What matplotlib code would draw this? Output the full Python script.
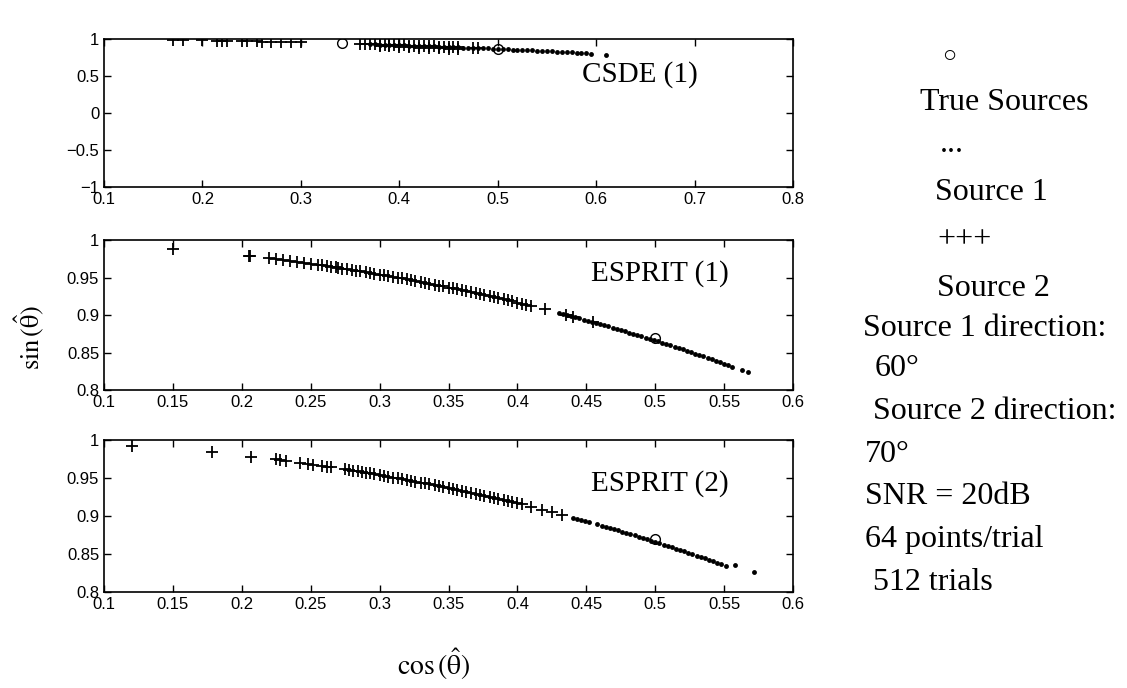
import matplotlib
matplotlib.use("Agg")
import matplotlib.pyplot as plt
from matplotlib.ticker import FuncFormatter

plt.rcParams['mathtext.fontset'] = 'stix'

# ---- CSDE (1) ----
csde_s2_cos = [0.17, 0.18, 0.20, 0.215, 0.22, 0.225, 0.24, 0.245, 0.255, 0.26, 0.27, 0.28,
               0.29, 0.30, 0.36, 0.365, 0.37, 0.375, 0.38, 0.385, 0.39, 0.395, 0.40, 0.405,
               0.41, 0.415, 0.42, 0.425, 0.43, 0.435, 0.44, 0.445, 0.45, 0.455, 0.46, 0.475, 0.48,
               0.38, 0.39, 0.40, 0.41, 0.42, 0.43, 0.44, 0.45, 0.46]
csde_s2_sin = [0.985, 0.984, 0.980, 0.977, 0.976, 0.974, 0.971, 0.970, 0.967, 0.966, 0.963, 0.960,
               0.957, 0.954, 0.933, 0.931, 0.929, 0.927, 0.925, 0.923, 0.921, 0.919, 0.917, 0.914,
               0.912, 0.910, 0.908, 0.905, 0.903, 0.900, 0.898, 0.896, 0.893, 0.891, 0.888, 0.880, 0.877,
               0.905, 0.900, 0.895, 0.890, 0.885, 0.880, 0.875, 0.870, 0.865]
csde_s1_cos = [0.37, 0.375, 0.38, 0.385, 0.39, 0.395, 0.40, 0.405, 0.41, 0.415, 0.42, 0.425,
               0.43, 0.435, 0.44, 0.445, 0.45, 0.455, 0.46, 0.465, 0.47, 0.475, 0.48, 0.485,
               0.49, 0.495, 0.50, 0.505, 0.51, 0.515, 0.52, 0.525, 0.53, 0.535, 0.54, 0.545,
               0.55, 0.555, 0.56, 0.565, 0.57, 0.575, 0.58, 0.585, 0.59, 0.595, 0.61]
csde_s1_sin = [0.929, 0.927, 0.925, 0.923, 0.921, 0.919, 0.917, 0.914, 0.912, 0.910, 0.908, 0.905,
               0.903, 0.900, 0.898, 0.896, 0.893, 0.891, 0.888, 0.885, 0.883, 0.880, 0.877, 0.875,
               0.872, 0.869, 0.866, 0.863, 0.860, 0.857, 0.854, 0.851, 0.848, 0.845, 0.842, 0.838,
               0.835, 0.832, 0.828, 0.825, 0.822, 0.818, 0.815, 0.811, 0.807, 0.804, 0.790]
csde_true_cos = [0.342, 0.5]
csde_true_sin = [0.940, 0.866]

# ---- ESPRIT (1) ----
esp1_s2_cos = [0.15, 0.205, 0.206, 0.22, 0.225, 0.23, 0.235, 0.24, 0.245, 0.25, 0.255, 0.258,
               0.262, 0.265, 0.268, 0.27, 0.273, 0.276, 0.28, 0.283, 0.286, 0.29, 0.293, 0.296,
               0.30, 0.303, 0.306, 0.31, 0.313, 0.316, 0.32, 0.323, 0.326, 0.33, 0.333, 0.336,
               0.34, 0.343, 0.346, 0.35, 0.353, 0.356, 0.36, 0.363, 0.366, 0.37, 0.373, 0.376,
               0.38, 0.383, 0.386, 0.39, 0.393, 0.396, 0.40, 0.403, 0.406, 0.41, 0.42, 0.435,
               0.44, 0.455]
esp1_s2_sin = [0.9887, 0.9788, 0.9786, 0.9755, 0.9744, 0.9732, 0.9720, 0.9708, 0.9695, 0.9682, 0.9669, 0.9661,
               0.9651, 0.9643, 0.9634, 0.9629, 0.9620, 0.9612, 0.9600, 0.9591, 0.9582, 0.9570, 0.9561, 0.9552,
               0.9539, 0.9530, 0.9520, 0.9507, 0.9498, 0.9488, 0.9474, 0.9464, 0.9454, 0.9440, 0.9429, 0.9419,
               0.9404, 0.9393, 0.9382, 0.9367, 0.9356, 0.9345, 0.9330, 0.9318, 0.9306, 0.9290, 0.9278, 0.9266,
               0.9250, 0.9237, 0.9225, 0.9208, 0.9195, 0.9183, 0.9165, 0.9152, 0.9139, 0.9121, 0.9075, 0.9004,
               0.8980, 0.8905]
esp1_s1_cos = [0.43, 0.433, 0.436, 0.439, 0.442, 0.445, 0.448, 0.451, 0.454, 0.457, 0.46, 0.463,
               0.466, 0.469, 0.472, 0.475, 0.478, 0.481, 0.484, 0.487, 0.49, 0.493, 0.496, 0.499,
               0.502, 0.505, 0.508, 0.511, 0.514, 0.517, 0.52, 0.523, 0.526, 0.529, 0.532, 0.535,
               0.538, 0.541, 0.544, 0.547, 0.55, 0.553, 0.556, 0.563, 0.567]
esp1_s1_sin = [0.9028, 0.9014, 0.8999, 0.8985, 0.8970, 0.8955, 0.8940, 0.8925, 0.8910, 0.8895, 0.8879, 0.8864,
               0.8848, 0.8832, 0.8816, 0.8800, 0.8784, 0.8767, 0.8751, 0.8734, 0.8717, 0.8700, 0.8683, 0.8666,
               0.8649, 0.8631, 0.8614, 0.8596, 0.8578, 0.8560, 0.8542, 0.8523, 0.8505, 0.8486, 0.8467, 0.8449,
               0.8429, 0.8410, 0.8391, 0.8371, 0.8352, 0.8332, 0.8312, 0.8265, 0.8237]
esp1_true_cos = [0.5]
esp1_true_sin = [0.87]

# ---- ESPRIT (2) ----
esp2_s2_cos = [0.12, 0.178, 0.207, 0.225, 0.228, 0.232, 0.242, 0.248, 0.252, 0.258, 0.262, 0.265,
               0.275, 0.278, 0.281, 0.284, 0.287, 0.29, 0.293, 0.296, 0.30, 0.303, 0.306, 0.31,
               0.313, 0.316, 0.32, 0.323, 0.326, 0.33, 0.333, 0.336, 0.34, 0.343, 0.346, 0.35,
               0.353, 0.356, 0.36, 0.363, 0.366, 0.37, 0.373, 0.376, 0.38, 0.383, 0.386, 0.39,
               0.393, 0.396, 0.40, 0.403, 0.41, 0.418, 0.425, 0.432]
esp2_s2_sin = [0.9928, 0.9840, 0.9783, 0.9744, 0.9737, 0.9727, 0.9703, 0.9688, 0.9677, 0.9661, 0.9651, 0.9643,
               0.9614, 0.9606, 0.9597, 0.9588, 0.9579, 0.9570, 0.9561, 0.9552, 0.9539, 0.9530, 0.9520, 0.9507,
               0.9498, 0.9488, 0.9474, 0.9464, 0.9454, 0.9440, 0.9429, 0.9419, 0.9404, 0.9393, 0.9382, 0.9367,
               0.9356, 0.9345, 0.9330, 0.9318, 0.9306, 0.9290, 0.9278, 0.9266, 0.9250, 0.9237, 0.9225, 0.9208,
               0.9195, 0.9183, 0.9165, 0.9152, 0.9121, 0.9084, 0.9052, 0.9019]
esp2_s1_cos = [0.44, 0.443, 0.446, 0.449, 0.452, 0.458, 0.461, 0.464, 0.467, 0.47, 0.473, 0.476,
               0.479, 0.482, 0.485, 0.488, 0.491, 0.494, 0.497, 0.50, 0.503, 0.506, 0.509, 0.512,
               0.515, 0.518, 0.521, 0.524, 0.527, 0.53, 0.533, 0.536, 0.539, 0.542, 0.545, 0.548,
               0.551, 0.558, 0.572]
esp2_s1_sin = [0.8980, 0.8965, 0.8950, 0.8935, 0.8920, 0.8890, 0.8874, 0.8858, 0.8843, 0.8827, 0.8811, 0.8794,
               0.8778, 0.8762, 0.8745, 0.8728, 0.8712, 0.8695, 0.8678, 0.8660, 0.8643, 0.8625, 0.8608, 0.8590,
               0.8572, 0.8554, 0.8536, 0.8517, 0.8499, 0.8480, 0.8461, 0.8442, 0.8423, 0.8404, 0.8384, 0.8365,
               0.8345, 0.8350, 0.8260]
esp2_true_cos = [0.5]
esp2_true_sin = [0.87]

xt_csde = [0.1, 0.2, 0.3, 0.4, 0.5, 0.6, 0.7, 0.8]
yt_csde = [-1, -0.5, 0, 0.5, 1]
xt_esp = [0.1, 0.15, 0.2, 0.25, 0.3, 0.35, 0.4, 0.45, 0.5, 0.55, 0.6]
yt_esp = [0.8, 0.85, 0.9, 0.95, 1]

panels = [
    ("CSDE (1)", csde_s2_cos, csde_s2_sin, csde_s1_cos, csde_s1_sin, csde_true_cos, csde_true_sin,
     (0.1, 0.8), (-1, 1), xt_csde, yt_csde, [0.0923, 0.7282, 0.6114, 0.2151], (0.778, 0.757)),
    ("ESPRIT (1)", esp1_s2_cos, esp1_s2_sin, esp1_s1_cos, esp1_s1_sin, esp1_true_cos, esp1_true_sin,
     (0.1, 0.6), (0.8, 1), xt_esp, yt_esp, [0.0923, 0.4331, 0.6114, 0.2180], (0.807, 0.78)),
    ("ESPRIT (2)", esp2_s2_cos, esp2_s2_sin, esp2_s1_cos, esp2_s1_sin, esp2_true_cos, esp2_true_sin,
     (0.1, 0.6), (0.8, 1), xt_esp, yt_esp, [0.0923, 0.1395, 0.6114, 0.2209], (0.807, 0.717)),
]

fig = plt.figure(figsize=(11.27, 6.88), dpi=100)

fmt = FuncFormatter(lambda v, p: ('%g' % v).replace('-', '\u2212'))

for (name, s2x, s2y, s1x, s1y, tx, ty, xl, yl, xt, yt, pos, tpos) in panels:
    ax = fig.add_axes(pos)
    ax.plot(s1x, s1y, linestyle='none', marker='o', color='black', markersize=3.5,
            markeredgewidth=0)
    ax.plot(s2x, s2y, linestyle='none', marker='+', color='black', markersize=8, markeredgewidth=1.3)
    ax.plot(tx, ty, linestyle='none', marker='o', markerfacecolor='none',
            markeredgecolor='black', markersize=7, markeredgewidth=1)
    ax.set_xlim(*xl)
    ax.set_ylim(*yl)
    ax.set_xticks(xt)
    ax.set_yticks(yt)
    ax.xaxis.set_major_formatter(fmt)
    ax.yaxis.set_major_formatter(fmt)
    ax.tick_params(direction='in', top=True, right=True, length=5, width=1, labelsize=12)
    for lab in ax.get_xticklabels() + ax.get_yticklabels():
        lab.set_family('Liberation Sans')
    for sp in ax.spines.values():
        sp.set_linewidth(1.2)
    ax.text(tpos[0], tpos[1], name, transform=ax.transAxes, ha='center', va='center',
            family='Liberation Serif', fontsize=21)

fig.text(0.027, 0.509, r'$\mathrm{sin}\,(\hat{\mathrm{\theta}})$', rotation=90,
         ha='center', va='center', fontsize=19)
fig.text(0.385, 0.035, r'$\mathrm{cos}\,(\hat{\mathrm{\theta}})$', ha='center', va='center', fontsize=20)

# right-hand annotation block (x_left px, y_center px, text, size)
notes = [
    (942, 57, '\u25cb', 17),
    (920, 103, 'True Sources', 23),
    (940, 145, '...', 23),
    (935, 192, 'Source 1', 23),
    (937, 240, '+++', 23),
    (937, 288, 'Source 2', 23),
    (863, 328, 'Source 1 direction:', 23),
    (875, 369, '60\u00b0', 23),
    (873, 412, 'Source 2 direction:', 23),
    (865, 455, '70\u00b0', 23),
    (865, 497, 'SNR = 20dB', 23),
    (865, 540, '64 points/trial', 23),
    (873, 583, '512 trials', 23),
]
for (px, py, s, fs) in notes:
    fig.text(px / 1127, 1 - py / 688, s, ha='left', va='center', fontsize=fs,
             family=['Liberation Serif', 'DejaVu Sans'])

fig.savefig('out.png', dpi=100)
